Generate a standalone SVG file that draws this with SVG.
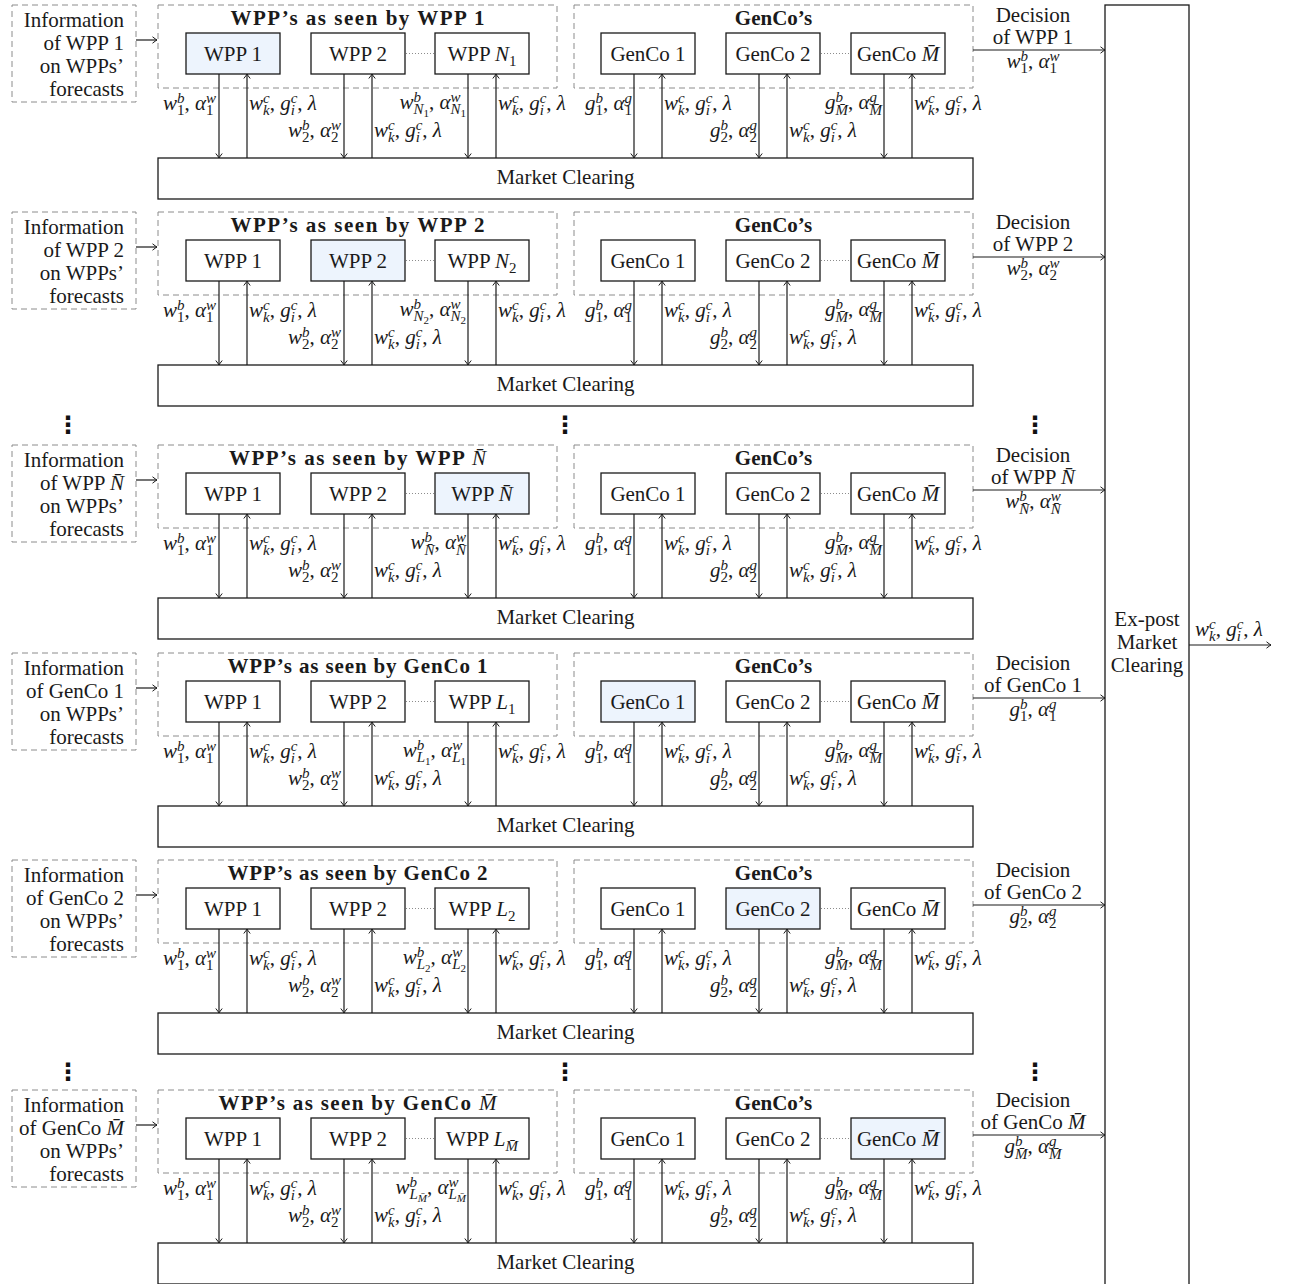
<svg xmlns="http://www.w3.org/2000/svg" width="1294" height="1284" viewBox="0 0 1294 1284">
<defs>
<style>
.t{font-family:"Liberation Serif","Times New Roman",serif;font-size:21px;fill:#1a1a1a}
.b{font-weight:bold}
.m{font-style:italic}
.u{font-style:normal}
.n{font-weight:normal}
.s{font-size:15px}
.ss{font-size:11px}
.dash{fill:none;stroke:#8c8c8c;stroke-width:1;stroke-dasharray:6 4}
.box{fill:#fff;stroke:#1a1a1a;stroke-width:1.3}
.hl{fill:#edf4fd}
.dot{stroke:#8c8c8c;stroke-width:1;stroke-dasharray:1 2}
.arr{stroke:#1a1a1a;stroke-width:1.2;fill:none;marker-end:url(#ah)}
.vd{font-family:"DejaVu Sans",sans-serif;font-weight:bold;font-size:24px;fill:#111}
</style>
<marker id="ah" viewBox="-6 -5 8 10" refX="0" refY="0" markerWidth="8" markerHeight="10" orient="auto" markerUnits="userSpaceOnUse">
<path d="M-4.5,-3.2 Q-1.2,-0.6 0,0 Q-1.2,0.6 -4.5,3.2" fill="none" stroke="#1a1a1a" stroke-width="1"/>
</marker>
</defs>
<rect width="1294" height="1284" fill="#fff"/>

<!-- panel 1: WPP 1 -->
<g id="panel-1">
<g id="info-1"><rect class="dash" x="12" y="5" width="124" height="97"/><text class="t" text-anchor="end"><tspan x="124" y="27">Information</tspan><tspan x="124" y="50">of WPP 1</tspan><tspan x="124" y="73">on WPPs’</tspan><tspan x="124" y="96">forecasts</tspan></text></g>
<g id="wpps-1"><rect class="dash" x="158" y="5" width="399" height="83"/><text class="t b" x="357.5" y="25" text-anchor="middle" textLength="254">WPP’s as seen by WPP 1</text></g>
<g id="wpp1-1"><rect class="box hl" x="186" y="33" width="94" height="41"/><text class="t" x="233" y="61" text-anchor="middle">WPP 1</text></g>
<g id="wpp2-1"><rect class="box" x="311" y="33" width="94" height="41"/><text class="t" x="358" y="61" text-anchor="middle">WPP 2</text></g>
<line class="dot" x1="406" y1="53.5" x2="434" y2="53.5"/>
<g id="wpp3-1"><rect class="box" x="435" y="33" width="94" height="41"/><text class="t" x="482" y="61" text-anchor="middle">WPP <tspan class="m">N</tspan><tspan class="s" dy="5">1</tspan></text></g>
<g id="gencos-1"><rect class="dash" x="574" y="5" width="399" height="83"/><text class="t b" x="773.5" y="25" text-anchor="middle">GenCo’s</text></g>
<g id="genco1-1"><rect class="box" x="601" y="33" width="94" height="41"/><text class="t" x="648" y="61" text-anchor="middle">GenCo 1</text></g>
<g id="genco2-1"><rect class="box" x="726" y="33" width="94" height="41"/><text class="t" x="773" y="61" text-anchor="middle">GenCo 2</text></g>
<line class="dot" x1="821" y1="53.5" x2="850" y2="53.5"/>
<g id="gencoM-1"><rect class="box" x="851" y="33" width="94" height="41"/><text class="t" x="898" y="61" text-anchor="middle">GenCo <tspan class="m">M̄</tspan></text></g>
<g id="market-1"><rect class="box" x="158" y="158" width="815" height="41"/><text class="t" x="565.5" y="184" text-anchor="middle">Market Clearing</text></g>
</g>

<!-- panel 2: WPP 2 -->
<g id="panel-2" transform="translate(0,207)">
<g id="info-2"><rect class="dash" x="12" y="5" width="124" height="97"/><text class="t" text-anchor="end"><tspan x="124" y="27">Information</tspan><tspan x="124" y="50">of WPP 2</tspan><tspan x="124" y="73">on WPPs’</tspan><tspan x="124" y="96">forecasts</tspan></text></g>
<g id="wpps-2"><rect class="dash" x="158" y="5" width="399" height="83"/><text class="t b" x="357.5" y="25" text-anchor="middle" textLength="254">WPP’s as seen by WPP 2</text></g>
<g id="wpp1-2"><rect class="box" x="186" y="33" width="94" height="41"/><text class="t" x="233" y="61" text-anchor="middle">WPP 1</text></g>
<g id="wpp2-2"><rect class="box hl" x="311" y="33" width="94" height="41"/><text class="t" x="358" y="61" text-anchor="middle">WPP 2</text></g>
<line class="dot" x1="406" y1="53.5" x2="434" y2="53.5"/>
<g id="wpp3-2"><rect class="box" x="435" y="33" width="94" height="41"/><text class="t" x="482" y="61" text-anchor="middle">WPP <tspan class="m">N</tspan><tspan class="s" dy="5">2</tspan></text></g>
<g id="gencos-2"><rect class="dash" x="574" y="5" width="399" height="83"/><text class="t b" x="773.5" y="25" text-anchor="middle">GenCo’s</text></g>
<g id="genco1-2"><rect class="box" x="601" y="33" width="94" height="41"/><text class="t" x="648" y="61" text-anchor="middle">GenCo 1</text></g>
<g id="genco2-2"><rect class="box" x="726" y="33" width="94" height="41"/><text class="t" x="773" y="61" text-anchor="middle">GenCo 2</text></g>
<line class="dot" x1="821" y1="53.5" x2="850" y2="53.5"/>
<g id="gencoM-2"><rect class="box" x="851" y="33" width="94" height="41"/><text class="t" x="898" y="61" text-anchor="middle">GenCo <tspan class="m">M̄</tspan></text></g>
<g id="market-2"><rect class="box" x="158" y="158" width="815" height="41"/><text class="t" x="565.5" y="184" text-anchor="middle">Market Clearing</text></g>
</g>

<!-- panel 3: WPP N-bar -->
<g id="panel-3" transform="translate(0,440)">
<g id="info-3"><rect class="dash" x="12" y="5" width="124" height="97"/><text class="t" text-anchor="end"><tspan x="124" y="27">Information</tspan><tspan x="124" y="50">of WPP <tspan class="m">N̄</tspan></tspan><tspan x="124" y="73">on WPPs’</tspan><tspan x="124" y="96">forecasts</tspan></text></g>
<g id="wpps-3"><rect class="dash" x="158" y="5" width="399" height="83"/><text class="t b" x="357.5" y="25" text-anchor="middle" textLength="257">WPP’s as seen by WPP <tspan class="m n">N̄</tspan></text></g>
<g id="wpp1-3"><rect class="box" x="186" y="33" width="94" height="41"/><text class="t" x="233" y="61" text-anchor="middle">WPP 1</text></g>
<g id="wpp2-3"><rect class="box" x="311" y="33" width="94" height="41"/><text class="t" x="358" y="61" text-anchor="middle">WPP 2</text></g>
<line class="dot" x1="406" y1="53.5" x2="434" y2="53.5"/>
<g id="wpp3-3"><rect class="box hl" x="435" y="33" width="94" height="41"/><text class="t" x="482" y="61" text-anchor="middle">WPP <tspan class="m">N̄</tspan></text></g>
<g id="gencos-3"><rect class="dash" x="574" y="5" width="399" height="83"/><text class="t b" x="773.5" y="25" text-anchor="middle">GenCo’s</text></g>
<g id="genco1-3"><rect class="box" x="601" y="33" width="94" height="41"/><text class="t" x="648" y="61" text-anchor="middle">GenCo 1</text></g>
<g id="genco2-3"><rect class="box" x="726" y="33" width="94" height="41"/><text class="t" x="773" y="61" text-anchor="middle">GenCo 2</text></g>
<line class="dot" x1="821" y1="53.5" x2="850" y2="53.5"/>
<g id="gencoM-3"><rect class="box" x="851" y="33" width="94" height="41"/><text class="t" x="898" y="61" text-anchor="middle">GenCo <tspan class="m">M̄</tspan></text></g>
<g id="market-3"><rect class="box" x="158" y="158" width="815" height="41"/><text class="t" x="565.5" y="184" text-anchor="middle">Market Clearing</text></g>
</g>

<!-- panel 4: GenCo 1 -->
<g id="panel-4" transform="translate(0,648)">
<g id="info-4"><rect class="dash" x="12" y="5" width="124" height="97"/><text class="t" text-anchor="end"><tspan x="124" y="27">Information</tspan><tspan x="124" y="50">of GenCo 1</tspan><tspan x="124" y="73">on WPPs’</tspan><tspan x="124" y="96">forecasts</tspan></text></g>
<g id="wpps-4"><rect class="dash" x="158" y="5" width="399" height="83"/><text class="t b" x="357.5" y="25" text-anchor="middle" textLength="260">WPP’s as seen by GenCo 1</text></g>
<g id="wpp1-4"><rect class="box" x="186" y="33" width="94" height="41"/><text class="t" x="233" y="61" text-anchor="middle">WPP 1</text></g>
<g id="wpp2-4"><rect class="box" x="311" y="33" width="94" height="41"/><text class="t" x="358" y="61" text-anchor="middle">WPP 2</text></g>
<line class="dot" x1="406" y1="53.5" x2="434" y2="53.5"/>
<g id="wpp3-4"><rect class="box" x="435" y="33" width="94" height="41"/><text class="t" x="482" y="61" text-anchor="middle">WPP <tspan class="m">L</tspan><tspan class="s" dy="5">1</tspan></text></g>
<g id="gencos-4"><rect class="dash" x="574" y="5" width="399" height="83"/><text class="t b" x="773.5" y="25" text-anchor="middle">GenCo’s</text></g>
<g id="genco1-4"><rect class="box hl" x="601" y="33" width="94" height="41"/><text class="t" x="648" y="61" text-anchor="middle">GenCo 1</text></g>
<g id="genco2-4"><rect class="box" x="726" y="33" width="94" height="41"/><text class="t" x="773" y="61" text-anchor="middle">GenCo 2</text></g>
<line class="dot" x1="821" y1="53.5" x2="850" y2="53.5"/>
<g id="gencoM-4"><rect class="box" x="851" y="33" width="94" height="41"/><text class="t" x="898" y="61" text-anchor="middle">GenCo <tspan class="m">M̄</tspan></text></g>
<g id="market-4"><rect class="box" x="158" y="158" width="815" height="41"/><text class="t" x="565.5" y="184" text-anchor="middle">Market Clearing</text></g>
</g>

<!-- panel 5: GenCo 2 -->
<g id="panel-5" transform="translate(0,855)">
<g id="info-5"><rect class="dash" x="12" y="5" width="124" height="97"/><text class="t" text-anchor="end"><tspan x="124" y="27">Information</tspan><tspan x="124" y="50">of GenCo 2</tspan><tspan x="124" y="73">on WPPs’</tspan><tspan x="124" y="96">forecasts</tspan></text></g>
<g id="wpps-5"><rect class="dash" x="158" y="5" width="399" height="83"/><text class="t b" x="357.5" y="25" text-anchor="middle" textLength="260">WPP’s as seen by GenCo 2</text></g>
<g id="wpp1-5"><rect class="box" x="186" y="33" width="94" height="41"/><text class="t" x="233" y="61" text-anchor="middle">WPP 1</text></g>
<g id="wpp2-5"><rect class="box" x="311" y="33" width="94" height="41"/><text class="t" x="358" y="61" text-anchor="middle">WPP 2</text></g>
<line class="dot" x1="406" y1="53.5" x2="434" y2="53.5"/>
<g id="wpp3-5"><rect class="box" x="435" y="33" width="94" height="41"/><text class="t" x="482" y="61" text-anchor="middle">WPP <tspan class="m">L</tspan><tspan class="s" dy="5">2</tspan></text></g>
<g id="gencos-5"><rect class="dash" x="574" y="5" width="399" height="83"/><text class="t b" x="773.5" y="25" text-anchor="middle">GenCo’s</text></g>
<g id="genco1-5"><rect class="box" x="601" y="33" width="94" height="41"/><text class="t" x="648" y="61" text-anchor="middle">GenCo 1</text></g>
<g id="genco2-5"><rect class="box hl" x="726" y="33" width="94" height="41"/><text class="t" x="773" y="61" text-anchor="middle">GenCo 2</text></g>
<line class="dot" x1="821" y1="53.5" x2="850" y2="53.5"/>
<g id="gencoM-5"><rect class="box" x="851" y="33" width="94" height="41"/><text class="t" x="898" y="61" text-anchor="middle">GenCo <tspan class="m">M̄</tspan></text></g>
<g id="market-5"><rect class="box" x="158" y="158" width="815" height="41"/><text class="t" x="565.5" y="184" text-anchor="middle">Market Clearing</text></g>
</g>

<!-- panel 6: GenCo M-bar -->
<g id="panel-6" transform="translate(0,1085)">
<g id="info-6"><rect class="dash" x="12" y="5" width="124" height="97"/><text class="t" text-anchor="end"><tspan x="124" y="27">Information</tspan><tspan x="124" y="50">of GenCo <tspan class="m">M̄</tspan></tspan><tspan x="124" y="73">on WPPs’</tspan><tspan x="124" y="96">forecasts</tspan></text></g>
<g id="wpps-6"><rect class="dash" x="158" y="5" width="399" height="83"/><text class="t b" x="357.5" y="25" text-anchor="middle" textLength="278">WPP’s as seen by GenCo <tspan class="m n">M̄</tspan></text></g>
<g id="wpp1-6"><rect class="box" x="186" y="33" width="94" height="41"/><text class="t" x="233" y="61" text-anchor="middle">WPP 1</text></g>
<g id="wpp2-6"><rect class="box" x="311" y="33" width="94" height="41"/><text class="t" x="358" y="61" text-anchor="middle">WPP 2</text></g>
<line class="dot" x1="406" y1="53.5" x2="434" y2="53.5"/>
<g id="wpp3-6"><rect class="box" x="435" y="33" width="94" height="41"/><text class="t" x="482" y="61" text-anchor="middle">WPP <tspan class="m">L</tspan><tspan class="s m" dy="5">M̄</tspan></text></g>
<g id="gencos-6"><rect class="dash" x="574" y="5" width="399" height="83"/><text class="t b" x="773.5" y="25" text-anchor="middle">GenCo’s</text></g>
<g id="genco1-6"><rect class="box" x="601" y="33" width="94" height="41"/><text class="t" x="648" y="61" text-anchor="middle">GenCo 1</text></g>
<g id="genco2-6"><rect class="box" x="726" y="33" width="94" height="41"/><text class="t" x="773" y="61" text-anchor="middle">GenCo 2</text></g>
<line class="dot" x1="821" y1="53.5" x2="850" y2="53.5"/>
<g id="gencoM-6"><rect class="box hl" x="851" y="33" width="94" height="41"/><text class="t" x="898" y="61" text-anchor="middle">GenCo <tspan class="m">M̄</tspan></text></g>
<g id="market-6"><rect class="box" x="158" y="158" width="815" height="41"/><text class="t" x="565.5" y="184" text-anchor="middle">Market Clearing</text></g>
</g>

<!-- ex-post market clearing -->
<g id="expost"><rect class="box" x="1105" y="5" width="84" height="1300"/><text class="t" text-anchor="middle"><tspan x="1147" y="626">Ex-post</tspan><tspan x="1147" y="649">Market</tspan><tspan x="1147" y="672">Clearing</tspan></text></g>

<!-- vertical ellipses between panels -->
<g id="ellipses">
<text class="vd" x="68" y="433" text-anchor="middle">⋮</text>
<text class="vd" x="565" y="433" text-anchor="middle">⋮</text>
<text class="vd" x="1035" y="433" text-anchor="middle">⋮</text>
<text class="vd" x="68" y="1080" text-anchor="middle">⋮</text>
<text class="vd" x="565" y="1080" text-anchor="middle">⋮</text>
<text class="vd" x="1035" y="1080" text-anchor="middle">⋮</text>
</g>

<!-- connectors -->
<g id="connectors">
<g transform="translate(0,0)">
<line class="arr" x1="136" y1="40" x2="157" y2="40"/>
<line class="arr" x1="219" y1="74" x2="219" y2="158"/><line class="arr" x1="247" y1="158" x2="247" y2="74"/>
<line class="arr" x1="344" y1="74" x2="344" y2="158"/><line class="arr" x1="372" y1="158" x2="372" y2="74"/>
<line class="arr" x1="468" y1="74" x2="468" y2="158"/><line class="arr" x1="496" y1="158" x2="496" y2="74"/>
<line class="arr" x1="634" y1="74" x2="634" y2="158"/><line class="arr" x1="662" y1="158" x2="662" y2="74"/>
<line class="arr" x1="759" y1="74" x2="759" y2="158"/><line class="arr" x1="787" y1="158" x2="787" y2="74"/>
<line class="arr" x1="884" y1="74" x2="884" y2="158"/><line class="arr" x1="912" y1="158" x2="912" y2="74"/>
<line class="arr" x1="973" y1="50" x2="1105" y2="50"/>
</g>
<g transform="translate(0,207)">
<line class="arr" x1="136" y1="40" x2="157" y2="40"/>
<line class="arr" x1="219" y1="74" x2="219" y2="158"/><line class="arr" x1="247" y1="158" x2="247" y2="74"/>
<line class="arr" x1="344" y1="74" x2="344" y2="158"/><line class="arr" x1="372" y1="158" x2="372" y2="74"/>
<line class="arr" x1="468" y1="74" x2="468" y2="158"/><line class="arr" x1="496" y1="158" x2="496" y2="74"/>
<line class="arr" x1="634" y1="74" x2="634" y2="158"/><line class="arr" x1="662" y1="158" x2="662" y2="74"/>
<line class="arr" x1="759" y1="74" x2="759" y2="158"/><line class="arr" x1="787" y1="158" x2="787" y2="74"/>
<line class="arr" x1="884" y1="74" x2="884" y2="158"/><line class="arr" x1="912" y1="158" x2="912" y2="74"/>
<line class="arr" x1="973" y1="50" x2="1105" y2="50"/>
</g>
<g transform="translate(0,440)">
<line class="arr" x1="136" y1="40" x2="157" y2="40"/>
<line class="arr" x1="219" y1="74" x2="219" y2="158"/><line class="arr" x1="247" y1="158" x2="247" y2="74"/>
<line class="arr" x1="344" y1="74" x2="344" y2="158"/><line class="arr" x1="372" y1="158" x2="372" y2="74"/>
<line class="arr" x1="468" y1="74" x2="468" y2="158"/><line class="arr" x1="496" y1="158" x2="496" y2="74"/>
<line class="arr" x1="634" y1="74" x2="634" y2="158"/><line class="arr" x1="662" y1="158" x2="662" y2="74"/>
<line class="arr" x1="759" y1="74" x2="759" y2="158"/><line class="arr" x1="787" y1="158" x2="787" y2="74"/>
<line class="arr" x1="884" y1="74" x2="884" y2="158"/><line class="arr" x1="912" y1="158" x2="912" y2="74"/>
<line class="arr" x1="973" y1="50" x2="1105" y2="50"/>
</g>
<g transform="translate(0,648)">
<line class="arr" x1="136" y1="40" x2="157" y2="40"/>
<line class="arr" x1="219" y1="74" x2="219" y2="158"/><line class="arr" x1="247" y1="158" x2="247" y2="74"/>
<line class="arr" x1="344" y1="74" x2="344" y2="158"/><line class="arr" x1="372" y1="158" x2="372" y2="74"/>
<line class="arr" x1="468" y1="74" x2="468" y2="158"/><line class="arr" x1="496" y1="158" x2="496" y2="74"/>
<line class="arr" x1="634" y1="74" x2="634" y2="158"/><line class="arr" x1="662" y1="158" x2="662" y2="74"/>
<line class="arr" x1="759" y1="74" x2="759" y2="158"/><line class="arr" x1="787" y1="158" x2="787" y2="74"/>
<line class="arr" x1="884" y1="74" x2="884" y2="158"/><line class="arr" x1="912" y1="158" x2="912" y2="74"/>
<line class="arr" x1="973" y1="50" x2="1105" y2="50"/>
</g>
<g transform="translate(0,855)">
<line class="arr" x1="136" y1="40" x2="157" y2="40"/>
<line class="arr" x1="219" y1="74" x2="219" y2="158"/><line class="arr" x1="247" y1="158" x2="247" y2="74"/>
<line class="arr" x1="344" y1="74" x2="344" y2="158"/><line class="arr" x1="372" y1="158" x2="372" y2="74"/>
<line class="arr" x1="468" y1="74" x2="468" y2="158"/><line class="arr" x1="496" y1="158" x2="496" y2="74"/>
<line class="arr" x1="634" y1="74" x2="634" y2="158"/><line class="arr" x1="662" y1="158" x2="662" y2="74"/>
<line class="arr" x1="759" y1="74" x2="759" y2="158"/><line class="arr" x1="787" y1="158" x2="787" y2="74"/>
<line class="arr" x1="884" y1="74" x2="884" y2="158"/><line class="arr" x1="912" y1="158" x2="912" y2="74"/>
<line class="arr" x1="973" y1="50" x2="1105" y2="50"/>
</g>
<g transform="translate(0,1085)">
<line class="arr" x1="136" y1="40" x2="157" y2="40"/>
<line class="arr" x1="219" y1="74" x2="219" y2="158"/><line class="arr" x1="247" y1="158" x2="247" y2="74"/>
<line class="arr" x1="344" y1="74" x2="344" y2="158"/><line class="arr" x1="372" y1="158" x2="372" y2="74"/>
<line class="arr" x1="468" y1="74" x2="468" y2="158"/><line class="arr" x1="496" y1="158" x2="496" y2="74"/>
<line class="arr" x1="634" y1="74" x2="634" y2="158"/><line class="arr" x1="662" y1="158" x2="662" y2="74"/>
<line class="arr" x1="759" y1="74" x2="759" y2="158"/><line class="arr" x1="787" y1="158" x2="787" y2="74"/>
<line class="arr" x1="884" y1="74" x2="884" y2="158"/><line class="arr" x1="912" y1="158" x2="912" y2="74"/>
<line class="arr" x1="973" y1="50" x2="1105" y2="50"/>
</g>
<line class="arr" x1="1189" y1="645" x2="1271" y2="645"/>
</g>

<!-- connector labels -->
<g id="labels">
<g transform="translate(0,0)">
<text class="t m" x="216" y="110" text-anchor="end">w<tspan class="s u" dy="5">1</tspan><tspan class="s" dx="-7.5" dy="-12">b</tspan><tspan class="u" dy="7">, </tspan>α<tspan class="s u" dy="5">1</tspan><tspan class="s" dx="-7.5" dy="-12">w</tspan></text>
<text class="t m" x="249" y="110">w<tspan class="s" dy="5">k</tspan><tspan class="s" dx="-6.7" dy="-12">c</tspan><tspan class="u" dy="7">, </tspan>g<tspan class="s" dy="5">i</tspan><tspan class="s" dx="-4.2" dy="-12">c</tspan><tspan class="u" dy="7">, </tspan>λ</text>
<text class="t m" x="341" y="137" text-anchor="end">w<tspan class="s u" dy="5">2</tspan><tspan class="s" dx="-7.5" dy="-12">b</tspan><tspan class="u" dy="7">, </tspan>α<tspan class="s u" dy="5">2</tspan><tspan class="s" dx="-7.5" dy="-12">w</tspan></text>
<text class="t m" x="374" y="137">w<tspan class="s" dy="5">k</tspan><tspan class="s" dx="-6.7" dy="-12">c</tspan><tspan class="u" dy="7">, </tspan>g<tspan class="s" dy="5">i</tspan><tspan class="s" dx="-4.2" dy="-12">c</tspan><tspan class="u" dy="7">, </tspan>λ</text>
<text class="t m" x="466" y="109" text-anchor="end">w<tspan class="s" dy="-7">b</tspan><tspan class="s" dx="-7.5" dy="12">N</tspan><tspan class="ss u" dy="3">1</tspan><tspan class="u" dy="-8">, </tspan>α<tspan class="s" dy="-7">w</tspan><tspan class="s" dx="-10" dy="12">N</tspan><tspan class="ss u" dy="3">1</tspan></text>
<text class="t m" x="498" y="110">w<tspan class="s" dy="5">k</tspan><tspan class="s" dx="-6.7" dy="-12">c</tspan><tspan class="u" dy="7">, </tspan>g<tspan class="s" dy="5">i</tspan><tspan class="s" dx="-4.2" dy="-12">c</tspan><tspan class="u" dy="7">, </tspan>λ</text>
<text class="t m" x="632" y="110" text-anchor="end">g<tspan class="s u" dy="5">1</tspan><tspan class="s" dx="-7.5" dy="-12">b</tspan><tspan class="u" dy="7">, </tspan>α<tspan class="s u" dy="5">1</tspan><tspan class="s" dx="-7.5" dy="-12">g</tspan></text>
<text class="t m" x="664" y="110">w<tspan class="s" dy="5">k</tspan><tspan class="s" dx="-6.7" dy="-12">c</tspan><tspan class="u" dy="7">, </tspan>g<tspan class="s" dy="5">i</tspan><tspan class="s" dx="-4.2" dy="-12">c</tspan><tspan class="u" dy="7">, </tspan>λ</text>
<text class="t m" x="757" y="137" text-anchor="end">g<tspan class="s u" dy="5">2</tspan><tspan class="s" dx="-7.5" dy="-12">b</tspan><tspan class="u" dy="7">, </tspan>α<tspan class="s u" dy="5">2</tspan><tspan class="s" dx="-7.5" dy="-12">g</tspan></text>
<text class="t m" x="789" y="137">w<tspan class="s" dy="5">k</tspan><tspan class="s" dx="-6.7" dy="-12">c</tspan><tspan class="u" dy="7">, </tspan>g<tspan class="s" dy="5">i</tspan><tspan class="s" dx="-4.2" dy="-12">c</tspan><tspan class="u" dy="7">, </tspan>λ</text>
<text class="t m" x="882" y="109" text-anchor="end">g<tspan class="s" dy="-7">b</tspan><tspan class="s" dx="-7.5" dy="13">M̄</tspan><tspan class="u" dy="-6">, </tspan>α<tspan class="s" dy="-7">g</tspan><tspan class="s" dx="-7.5" dy="13">M̄</tspan></text>
<text class="t m" x="914" y="110">w<tspan class="s" dy="5">k</tspan><tspan class="s" dx="-6.7" dy="-12">c</tspan><tspan class="u" dy="7">, </tspan>g<tspan class="s" dy="5">i</tspan><tspan class="s" dx="-4.2" dy="-12">c</tspan><tspan class="u" dy="7">, </tspan>λ</text>
<text class="t" text-anchor="middle"><tspan x="1033" y="22">Decision</tspan><tspan x="1033" y="44">of WPP 1</tspan></text>
<text class="t m" x="1033" y="68" text-anchor="middle">w<tspan class="s u" dy="5">1</tspan><tspan class="s" dx="-7.5" dy="-12">b</tspan><tspan class="u" dy="7">, </tspan>α<tspan class="s u" dy="5">1</tspan><tspan class="s" dx="-7.5" dy="-12">w</tspan></text>
</g>
<g transform="translate(0,207)">
<text class="t m" x="216" y="110" text-anchor="end">w<tspan class="s u" dy="5">1</tspan><tspan class="s" dx="-7.5" dy="-12">b</tspan><tspan class="u" dy="7">, </tspan>α<tspan class="s u" dy="5">1</tspan><tspan class="s" dx="-7.5" dy="-12">w</tspan></text>
<text class="t m" x="249" y="110">w<tspan class="s" dy="5">k</tspan><tspan class="s" dx="-6.7" dy="-12">c</tspan><tspan class="u" dy="7">, </tspan>g<tspan class="s" dy="5">i</tspan><tspan class="s" dx="-4.2" dy="-12">c</tspan><tspan class="u" dy="7">, </tspan>λ</text>
<text class="t m" x="341" y="137" text-anchor="end">w<tspan class="s u" dy="5">2</tspan><tspan class="s" dx="-7.5" dy="-12">b</tspan><tspan class="u" dy="7">, </tspan>α<tspan class="s u" dy="5">2</tspan><tspan class="s" dx="-7.5" dy="-12">w</tspan></text>
<text class="t m" x="374" y="137">w<tspan class="s" dy="5">k</tspan><tspan class="s" dx="-6.7" dy="-12">c</tspan><tspan class="u" dy="7">, </tspan>g<tspan class="s" dy="5">i</tspan><tspan class="s" dx="-4.2" dy="-12">c</tspan><tspan class="u" dy="7">, </tspan>λ</text>
<text class="t m" x="466" y="109" text-anchor="end">w<tspan class="s" dy="-7">b</tspan><tspan class="s" dx="-7.5" dy="12">N</tspan><tspan class="ss u" dy="3">2</tspan><tspan class="u" dy="-8">, </tspan>α<tspan class="s" dy="-7">w</tspan><tspan class="s" dx="-10" dy="12">N</tspan><tspan class="ss u" dy="3">2</tspan></text>
<text class="t m" x="498" y="110">w<tspan class="s" dy="5">k</tspan><tspan class="s" dx="-6.7" dy="-12">c</tspan><tspan class="u" dy="7">, </tspan>g<tspan class="s" dy="5">i</tspan><tspan class="s" dx="-4.2" dy="-12">c</tspan><tspan class="u" dy="7">, </tspan>λ</text>
<text class="t m" x="632" y="110" text-anchor="end">g<tspan class="s u" dy="5">1</tspan><tspan class="s" dx="-7.5" dy="-12">b</tspan><tspan class="u" dy="7">, </tspan>α<tspan class="s u" dy="5">1</tspan><tspan class="s" dx="-7.5" dy="-12">g</tspan></text>
<text class="t m" x="664" y="110">w<tspan class="s" dy="5">k</tspan><tspan class="s" dx="-6.7" dy="-12">c</tspan><tspan class="u" dy="7">, </tspan>g<tspan class="s" dy="5">i</tspan><tspan class="s" dx="-4.2" dy="-12">c</tspan><tspan class="u" dy="7">, </tspan>λ</text>
<text class="t m" x="757" y="137" text-anchor="end">g<tspan class="s u" dy="5">2</tspan><tspan class="s" dx="-7.5" dy="-12">b</tspan><tspan class="u" dy="7">, </tspan>α<tspan class="s u" dy="5">2</tspan><tspan class="s" dx="-7.5" dy="-12">g</tspan></text>
<text class="t m" x="789" y="137">w<tspan class="s" dy="5">k</tspan><tspan class="s" dx="-6.7" dy="-12">c</tspan><tspan class="u" dy="7">, </tspan>g<tspan class="s" dy="5">i</tspan><tspan class="s" dx="-4.2" dy="-12">c</tspan><tspan class="u" dy="7">, </tspan>λ</text>
<text class="t m" x="882" y="109" text-anchor="end">g<tspan class="s" dy="-7">b</tspan><tspan class="s" dx="-7.5" dy="13">M̄</tspan><tspan class="u" dy="-6">, </tspan>α<tspan class="s" dy="-7">g</tspan><tspan class="s" dx="-7.5" dy="13">M̄</tspan></text>
<text class="t m" x="914" y="110">w<tspan class="s" dy="5">k</tspan><tspan class="s" dx="-6.7" dy="-12">c</tspan><tspan class="u" dy="7">, </tspan>g<tspan class="s" dy="5">i</tspan><tspan class="s" dx="-4.2" dy="-12">c</tspan><tspan class="u" dy="7">, </tspan>λ</text>
<text class="t" text-anchor="middle"><tspan x="1033" y="22">Decision</tspan><tspan x="1033" y="44">of WPP 2</tspan></text>
<text class="t m" x="1033" y="68" text-anchor="middle">w<tspan class="s u" dy="5">2</tspan><tspan class="s" dx="-7.5" dy="-12">b</tspan><tspan class="u" dy="7">, </tspan>α<tspan class="s u" dy="5">2</tspan><tspan class="s" dx="-7.5" dy="-12">w</tspan></text>
</g>
<g transform="translate(0,440)">
<text class="t m" x="216" y="110" text-anchor="end">w<tspan class="s u" dy="5">1</tspan><tspan class="s" dx="-7.5" dy="-12">b</tspan><tspan class="u" dy="7">, </tspan>α<tspan class="s u" dy="5">1</tspan><tspan class="s" dx="-7.5" dy="-12">w</tspan></text>
<text class="t m" x="249" y="110">w<tspan class="s" dy="5">k</tspan><tspan class="s" dx="-6.7" dy="-12">c</tspan><tspan class="u" dy="7">, </tspan>g<tspan class="s" dy="5">i</tspan><tspan class="s" dx="-4.2" dy="-12">c</tspan><tspan class="u" dy="7">, </tspan>λ</text>
<text class="t m" x="341" y="137" text-anchor="end">w<tspan class="s u" dy="5">2</tspan><tspan class="s" dx="-7.5" dy="-12">b</tspan><tspan class="u" dy="7">, </tspan>α<tspan class="s u" dy="5">2</tspan><tspan class="s" dx="-7.5" dy="-12">w</tspan></text>
<text class="t m" x="374" y="137">w<tspan class="s" dy="5">k</tspan><tspan class="s" dx="-6.7" dy="-12">c</tspan><tspan class="u" dy="7">, </tspan>g<tspan class="s" dy="5">i</tspan><tspan class="s" dx="-4.2" dy="-12">c</tspan><tspan class="u" dy="7">, </tspan>λ</text>
<text class="t m" x="466" y="109" text-anchor="end">w<tspan class="s" dy="-7">b</tspan><tspan class="s" dx="-7.5" dy="13">N̄</tspan><tspan class="u" dy="-6">, </tspan>α<tspan class="s" dy="-7">w</tspan><tspan class="s" dx="-10" dy="13">N̄</tspan></text>
<text class="t m" x="498" y="110">w<tspan class="s" dy="5">k</tspan><tspan class="s" dx="-6.7" dy="-12">c</tspan><tspan class="u" dy="7">, </tspan>g<tspan class="s" dy="5">i</tspan><tspan class="s" dx="-4.2" dy="-12">c</tspan><tspan class="u" dy="7">, </tspan>λ</text>
<text class="t m" x="632" y="110" text-anchor="end">g<tspan class="s u" dy="5">1</tspan><tspan class="s" dx="-7.5" dy="-12">b</tspan><tspan class="u" dy="7">, </tspan>α<tspan class="s u" dy="5">1</tspan><tspan class="s" dx="-7.5" dy="-12">g</tspan></text>
<text class="t m" x="664" y="110">w<tspan class="s" dy="5">k</tspan><tspan class="s" dx="-6.7" dy="-12">c</tspan><tspan class="u" dy="7">, </tspan>g<tspan class="s" dy="5">i</tspan><tspan class="s" dx="-4.2" dy="-12">c</tspan><tspan class="u" dy="7">, </tspan>λ</text>
<text class="t m" x="757" y="137" text-anchor="end">g<tspan class="s u" dy="5">2</tspan><tspan class="s" dx="-7.5" dy="-12">b</tspan><tspan class="u" dy="7">, </tspan>α<tspan class="s u" dy="5">2</tspan><tspan class="s" dx="-7.5" dy="-12">g</tspan></text>
<text class="t m" x="789" y="137">w<tspan class="s" dy="5">k</tspan><tspan class="s" dx="-6.7" dy="-12">c</tspan><tspan class="u" dy="7">, </tspan>g<tspan class="s" dy="5">i</tspan><tspan class="s" dx="-4.2" dy="-12">c</tspan><tspan class="u" dy="7">, </tspan>λ</text>
<text class="t m" x="882" y="109" text-anchor="end">g<tspan class="s" dy="-7">b</tspan><tspan class="s" dx="-7.5" dy="13">M̄</tspan><tspan class="u" dy="-6">, </tspan>α<tspan class="s" dy="-7">g</tspan><tspan class="s" dx="-7.5" dy="13">M̄</tspan></text>
<text class="t m" x="914" y="110">w<tspan class="s" dy="5">k</tspan><tspan class="s" dx="-6.7" dy="-12">c</tspan><tspan class="u" dy="7">, </tspan>g<tspan class="s" dy="5">i</tspan><tspan class="s" dx="-4.2" dy="-12">c</tspan><tspan class="u" dy="7">, </tspan>λ</text>
<text class="t" text-anchor="middle"><tspan x="1033" y="22">Decision</tspan><tspan x="1033" y="44">of WPP <tspan class="m">N̄</tspan></tspan></text>
<text class="t m" x="1033" y="68" text-anchor="middle">w<tspan class="s" dy="-7">b</tspan><tspan class="s" dx="-7.5" dy="13">N̄</tspan><tspan class="u" dy="-6">, </tspan>α<tspan class="s" dy="-7">w</tspan><tspan class="s" dx="-10" dy="13">N̄</tspan></text>
</g>
<g transform="translate(0,648)">
<text class="t m" x="216" y="110" text-anchor="end">w<tspan class="s u" dy="5">1</tspan><tspan class="s" dx="-7.5" dy="-12">b</tspan><tspan class="u" dy="7">, </tspan>α<tspan class="s u" dy="5">1</tspan><tspan class="s" dx="-7.5" dy="-12">w</tspan></text>
<text class="t m" x="249" y="110">w<tspan class="s" dy="5">k</tspan><tspan class="s" dx="-6.7" dy="-12">c</tspan><tspan class="u" dy="7">, </tspan>g<tspan class="s" dy="5">i</tspan><tspan class="s" dx="-4.2" dy="-12">c</tspan><tspan class="u" dy="7">, </tspan>λ</text>
<text class="t m" x="341" y="137" text-anchor="end">w<tspan class="s u" dy="5">2</tspan><tspan class="s" dx="-7.5" dy="-12">b</tspan><tspan class="u" dy="7">, </tspan>α<tspan class="s u" dy="5">2</tspan><tspan class="s" dx="-7.5" dy="-12">w</tspan></text>
<text class="t m" x="374" y="137">w<tspan class="s" dy="5">k</tspan><tspan class="s" dx="-6.7" dy="-12">c</tspan><tspan class="u" dy="7">, </tspan>g<tspan class="s" dy="5">i</tspan><tspan class="s" dx="-4.2" dy="-12">c</tspan><tspan class="u" dy="7">, </tspan>λ</text>
<text class="t m" x="466" y="109" text-anchor="end">w<tspan class="s" dy="-7">b</tspan><tspan class="s" dx="-7.5" dy="12">L</tspan><tspan class="ss u" dy="3">1</tspan><tspan class="u" dy="-8">, </tspan>α<tspan class="s" dy="-7">w</tspan><tspan class="s" dx="-10" dy="12">L</tspan><tspan class="ss u" dy="3">1</tspan></text>
<text class="t m" x="498" y="110">w<tspan class="s" dy="5">k</tspan><tspan class="s" dx="-6.7" dy="-12">c</tspan><tspan class="u" dy="7">, </tspan>g<tspan class="s" dy="5">i</tspan><tspan class="s" dx="-4.2" dy="-12">c</tspan><tspan class="u" dy="7">, </tspan>λ</text>
<text class="t m" x="632" y="110" text-anchor="end">g<tspan class="s u" dy="5">1</tspan><tspan class="s" dx="-7.5" dy="-12">b</tspan><tspan class="u" dy="7">, </tspan>α<tspan class="s u" dy="5">1</tspan><tspan class="s" dx="-7.5" dy="-12">g</tspan></text>
<text class="t m" x="664" y="110">w<tspan class="s" dy="5">k</tspan><tspan class="s" dx="-6.7" dy="-12">c</tspan><tspan class="u" dy="7">, </tspan>g<tspan class="s" dy="5">i</tspan><tspan class="s" dx="-4.2" dy="-12">c</tspan><tspan class="u" dy="7">, </tspan>λ</text>
<text class="t m" x="757" y="137" text-anchor="end">g<tspan class="s u" dy="5">2</tspan><tspan class="s" dx="-7.5" dy="-12">b</tspan><tspan class="u" dy="7">, </tspan>α<tspan class="s u" dy="5">2</tspan><tspan class="s" dx="-7.5" dy="-12">g</tspan></text>
<text class="t m" x="789" y="137">w<tspan class="s" dy="5">k</tspan><tspan class="s" dx="-6.7" dy="-12">c</tspan><tspan class="u" dy="7">, </tspan>g<tspan class="s" dy="5">i</tspan><tspan class="s" dx="-4.2" dy="-12">c</tspan><tspan class="u" dy="7">, </tspan>λ</text>
<text class="t m" x="882" y="109" text-anchor="end">g<tspan class="s" dy="-7">b</tspan><tspan class="s" dx="-7.5" dy="13">M̄</tspan><tspan class="u" dy="-6">, </tspan>α<tspan class="s" dy="-7">g</tspan><tspan class="s" dx="-7.5" dy="13">M̄</tspan></text>
<text class="t m" x="914" y="110">w<tspan class="s" dy="5">k</tspan><tspan class="s" dx="-6.7" dy="-12">c</tspan><tspan class="u" dy="7">, </tspan>g<tspan class="s" dy="5">i</tspan><tspan class="s" dx="-4.2" dy="-12">c</tspan><tspan class="u" dy="7">, </tspan>λ</text>
<text class="t" text-anchor="middle"><tspan x="1033" y="22">Decision</tspan><tspan x="1033" y="44">of GenCo 1</tspan></text>
<text class="t m" x="1033" y="68" text-anchor="middle">g<tspan class="s u" dy="5">1</tspan><tspan class="s" dx="-7.5" dy="-12">b</tspan><tspan class="u" dy="7">, </tspan>α<tspan class="s u" dy="5">1</tspan><tspan class="s" dx="-7.5" dy="-12">g</tspan></text>
</g>
<g transform="translate(0,855)">
<text class="t m" x="216" y="110" text-anchor="end">w<tspan class="s u" dy="5">1</tspan><tspan class="s" dx="-7.5" dy="-12">b</tspan><tspan class="u" dy="7">, </tspan>α<tspan class="s u" dy="5">1</tspan><tspan class="s" dx="-7.5" dy="-12">w</tspan></text>
<text class="t m" x="249" y="110">w<tspan class="s" dy="5">k</tspan><tspan class="s" dx="-6.7" dy="-12">c</tspan><tspan class="u" dy="7">, </tspan>g<tspan class="s" dy="5">i</tspan><tspan class="s" dx="-4.2" dy="-12">c</tspan><tspan class="u" dy="7">, </tspan>λ</text>
<text class="t m" x="341" y="137" text-anchor="end">w<tspan class="s u" dy="5">2</tspan><tspan class="s" dx="-7.5" dy="-12">b</tspan><tspan class="u" dy="7">, </tspan>α<tspan class="s u" dy="5">2</tspan><tspan class="s" dx="-7.5" dy="-12">w</tspan></text>
<text class="t m" x="374" y="137">w<tspan class="s" dy="5">k</tspan><tspan class="s" dx="-6.7" dy="-12">c</tspan><tspan class="u" dy="7">, </tspan>g<tspan class="s" dy="5">i</tspan><tspan class="s" dx="-4.2" dy="-12">c</tspan><tspan class="u" dy="7">, </tspan>λ</text>
<text class="t m" x="466" y="109" text-anchor="end">w<tspan class="s" dy="-7">b</tspan><tspan class="s" dx="-7.5" dy="12">L</tspan><tspan class="ss u" dy="3">2</tspan><tspan class="u" dy="-8">, </tspan>α<tspan class="s" dy="-7">w</tspan><tspan class="s" dx="-10" dy="12">L</tspan><tspan class="ss u" dy="3">2</tspan></text>
<text class="t m" x="498" y="110">w<tspan class="s" dy="5">k</tspan><tspan class="s" dx="-6.7" dy="-12">c</tspan><tspan class="u" dy="7">, </tspan>g<tspan class="s" dy="5">i</tspan><tspan class="s" dx="-4.2" dy="-12">c</tspan><tspan class="u" dy="7">, </tspan>λ</text>
<text class="t m" x="632" y="110" text-anchor="end">g<tspan class="s u" dy="5">1</tspan><tspan class="s" dx="-7.5" dy="-12">b</tspan><tspan class="u" dy="7">, </tspan>α<tspan class="s u" dy="5">1</tspan><tspan class="s" dx="-7.5" dy="-12">g</tspan></text>
<text class="t m" x="664" y="110">w<tspan class="s" dy="5">k</tspan><tspan class="s" dx="-6.7" dy="-12">c</tspan><tspan class="u" dy="7">, </tspan>g<tspan class="s" dy="5">i</tspan><tspan class="s" dx="-4.2" dy="-12">c</tspan><tspan class="u" dy="7">, </tspan>λ</text>
<text class="t m" x="757" y="137" text-anchor="end">g<tspan class="s u" dy="5">2</tspan><tspan class="s" dx="-7.5" dy="-12">b</tspan><tspan class="u" dy="7">, </tspan>α<tspan class="s u" dy="5">2</tspan><tspan class="s" dx="-7.5" dy="-12">g</tspan></text>
<text class="t m" x="789" y="137">w<tspan class="s" dy="5">k</tspan><tspan class="s" dx="-6.7" dy="-12">c</tspan><tspan class="u" dy="7">, </tspan>g<tspan class="s" dy="5">i</tspan><tspan class="s" dx="-4.2" dy="-12">c</tspan><tspan class="u" dy="7">, </tspan>λ</text>
<text class="t m" x="882" y="109" text-anchor="end">g<tspan class="s" dy="-7">b</tspan><tspan class="s" dx="-7.5" dy="13">M̄</tspan><tspan class="u" dy="-6">, </tspan>α<tspan class="s" dy="-7">g</tspan><tspan class="s" dx="-7.5" dy="13">M̄</tspan></text>
<text class="t m" x="914" y="110">w<tspan class="s" dy="5">k</tspan><tspan class="s" dx="-6.7" dy="-12">c</tspan><tspan class="u" dy="7">, </tspan>g<tspan class="s" dy="5">i</tspan><tspan class="s" dx="-4.2" dy="-12">c</tspan><tspan class="u" dy="7">, </tspan>λ</text>
<text class="t" text-anchor="middle"><tspan x="1033" y="22">Decision</tspan><tspan x="1033" y="44">of GenCo 2</tspan></text>
<text class="t m" x="1033" y="68" text-anchor="middle">g<tspan class="s u" dy="5">2</tspan><tspan class="s" dx="-7.5" dy="-12">b</tspan><tspan class="u" dy="7">, </tspan>α<tspan class="s u" dy="5">2</tspan><tspan class="s" dx="-7.5" dy="-12">g</tspan></text>
</g>
<g transform="translate(0,1085)">
<text class="t m" x="216" y="110" text-anchor="end">w<tspan class="s u" dy="5">1</tspan><tspan class="s" dx="-7.5" dy="-12">b</tspan><tspan class="u" dy="7">, </tspan>α<tspan class="s u" dy="5">1</tspan><tspan class="s" dx="-7.5" dy="-12">w</tspan></text>
<text class="t m" x="249" y="110">w<tspan class="s" dy="5">k</tspan><tspan class="s" dx="-6.7" dy="-12">c</tspan><tspan class="u" dy="7">, </tspan>g<tspan class="s" dy="5">i</tspan><tspan class="s" dx="-4.2" dy="-12">c</tspan><tspan class="u" dy="7">, </tspan>λ</text>
<text class="t m" x="341" y="137" text-anchor="end">w<tspan class="s u" dy="5">2</tspan><tspan class="s" dx="-7.5" dy="-12">b</tspan><tspan class="u" dy="7">, </tspan>α<tspan class="s u" dy="5">2</tspan><tspan class="s" dx="-7.5" dy="-12">w</tspan></text>
<text class="t m" x="374" y="137">w<tspan class="s" dy="5">k</tspan><tspan class="s" dx="-6.7" dy="-12">c</tspan><tspan class="u" dy="7">, </tspan>g<tspan class="s" dy="5">i</tspan><tspan class="s" dx="-4.2" dy="-12">c</tspan><tspan class="u" dy="7">, </tspan>λ</text>
<text class="t m" x="466" y="109" text-anchor="end">w<tspan class="s" dy="-7">b</tspan><tspan class="s" dx="-7.5" dy="12">L</tspan><tspan class="ss" dy="3">M̄</tspan><tspan class="u" dy="-8">, </tspan>α<tspan class="s" dy="-7">w</tspan><tspan class="s" dx="-10" dy="12">L</tspan><tspan class="ss" dy="3">M̄</tspan></text>
<text class="t m" x="498" y="110">w<tspan class="s" dy="5">k</tspan><tspan class="s" dx="-6.7" dy="-12">c</tspan><tspan class="u" dy="7">, </tspan>g<tspan class="s" dy="5">i</tspan><tspan class="s" dx="-4.2" dy="-12">c</tspan><tspan class="u" dy="7">, </tspan>λ</text>
<text class="t m" x="632" y="110" text-anchor="end">g<tspan class="s u" dy="5">1</tspan><tspan class="s" dx="-7.5" dy="-12">b</tspan><tspan class="u" dy="7">, </tspan>α<tspan class="s u" dy="5">1</tspan><tspan class="s" dx="-7.5" dy="-12">g</tspan></text>
<text class="t m" x="664" y="110">w<tspan class="s" dy="5">k</tspan><tspan class="s" dx="-6.7" dy="-12">c</tspan><tspan class="u" dy="7">, </tspan>g<tspan class="s" dy="5">i</tspan><tspan class="s" dx="-4.2" dy="-12">c</tspan><tspan class="u" dy="7">, </tspan>λ</text>
<text class="t m" x="757" y="137" text-anchor="end">g<tspan class="s u" dy="5">2</tspan><tspan class="s" dx="-7.5" dy="-12">b</tspan><tspan class="u" dy="7">, </tspan>α<tspan class="s u" dy="5">2</tspan><tspan class="s" dx="-7.5" dy="-12">g</tspan></text>
<text class="t m" x="789" y="137">w<tspan class="s" dy="5">k</tspan><tspan class="s" dx="-6.7" dy="-12">c</tspan><tspan class="u" dy="7">, </tspan>g<tspan class="s" dy="5">i</tspan><tspan class="s" dx="-4.2" dy="-12">c</tspan><tspan class="u" dy="7">, </tspan>λ</text>
<text class="t m" x="882" y="109" text-anchor="end">g<tspan class="s" dy="-7">b</tspan><tspan class="s" dx="-7.5" dy="13">M̄</tspan><tspan class="u" dy="-6">, </tspan>α<tspan class="s" dy="-7">g</tspan><tspan class="s" dx="-7.5" dy="13">M̄</tspan></text>
<text class="t m" x="914" y="110">w<tspan class="s" dy="5">k</tspan><tspan class="s" dx="-6.7" dy="-12">c</tspan><tspan class="u" dy="7">, </tspan>g<tspan class="s" dy="5">i</tspan><tspan class="s" dx="-4.2" dy="-12">c</tspan><tspan class="u" dy="7">, </tspan>λ</text>
<text class="t" text-anchor="middle"><tspan x="1033" y="22">Decision</tspan><tspan x="1033" y="44">of GenCo <tspan class="m">M̄</tspan></tspan></text>
<text class="t m" x="1033" y="68" text-anchor="middle">g<tspan class="s" dy="-7">b</tspan><tspan class="s" dx="-7.5" dy="13">M̄</tspan><tspan class="u" dy="-6">, </tspan>α<tspan class="s" dy="-7">g</tspan><tspan class="s" dx="-7.5" dy="13">M̄</tspan></text>
</g>
<text class="t m" x="1195" y="636">w<tspan class="s" dy="5">k</tspan><tspan class="s" dx="-6.7" dy="-12">c</tspan><tspan class="u" dy="7">, </tspan>g<tspan class="s" dy="5">i</tspan><tspan class="s" dx="-4.2" dy="-12">c</tspan><tspan class="u" dy="7">, </tspan>λ</text>
</g>
</svg>
